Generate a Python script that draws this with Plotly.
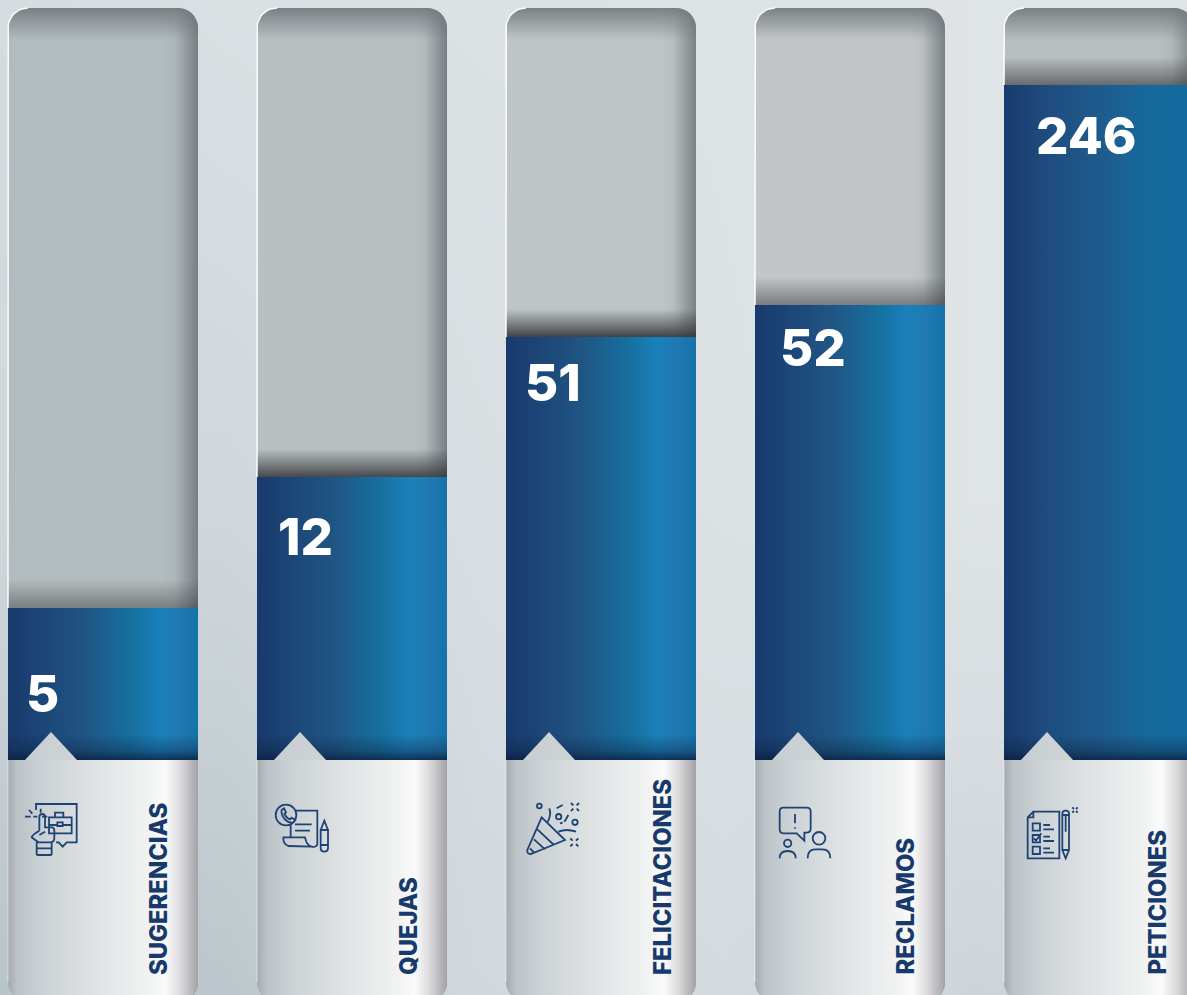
import math
import re
import plotly.graph_objects as go

# ---- data ----
categories = ["SUGERENCIAS", "QUEJAS", "FELICITACIONES", "RECLAMOS", "PETICIONES"]
values = [5, 12, 51, 52, 246]
# the infographic's fill heights are not proportional to the counts: height above the baseline
fill_levels = [152, 283, 423, 455, 675]
value_label_levels = [61, 217.5, 371.5, 407, 618.5]
value_label_offsets = [-77, -74, -76, -70, -63]
cat_label_offsets = [55, 56, 61, 55, 58]
cat_font_sizes = [23.85, 23.85, 23.85, 23.85, 23.85]
well_colors = ["#b2bbbd", "#b9c0c2", "#bfc5c6", "#c2c6c7", "#b9bebf"]
shadow_alphas = [0.45, 0.85, 0.9, 0.5, 0.6]

bg_x_px = [0, 228, 476, 725, 975, 1187]
bg_y_px = [0, 500, 995]
bg_levels = [
    [213, 218, 220, 221, 223, 224],
    [208, 208, 216, 220, 223, 224],
    [184, 188, 209, 212, 205, 209],
]

NAVY = "#17396b"
ICON = "#1d4274"
PITCH, CX0, BASE_PX, H_PX = 249.0, 103.0, 760.0, 995.0
HALF = 95.0 / PITCH
TOP = BASE_PX - 8
BOTTOM = BASE_PX - 1002


def dx(px):
    return px / PITCH


def X(px):
    return (px - CX0) / PITCH


def Y(py):
    return BASE_PX - py


def rrect(xl, xr, yt, yb, rt, rb):
    """Outline with rounded corners, x in axis units, y in axis units, radii in px."""
    xs, ys = [], []
    n = 10
    def arc(cx, cy, r, a0, a1):
        for k in range(n + 1):
            a = math.radians(a0 + (a1 - a0) * k / n)
            xs.append(cx + dx(r) * math.cos(a))
            ys.append(cy + r * math.sin(a))
    arc(xl + dx(rt), yt - rt, rt, 180, 90)
    arc(xr - dx(rt), yt - rt, rt, 90, 0)
    arc(xr - dx(rb), yb + rb, rb, 0, -90)
    arc(xl + dx(rb), yb + rb, rb, -90, -180)
    xs.append(xs[0]); ys.append(ys[0])
    return xs, ys


def grad(xs, ys, kind, scale, start=None, stop=None, name=""):
    fg = dict(type=kind, colorscale=scale)
    if start is not None:
        fg["start"], fg["stop"] = start, stop
    return go.Scatter(x=xs, y=ys, mode="none", fill="toself", fillcolor="rgba(0,0,0,0)",
                      fillgradient=fg, hoverinfo="skip", showlegend=False, name=name)


def transform(path, ox, oy, s=1 / 3):
    toks = re.findall(r"[MLQCZ]|-?\d+\.?\d*", path)
    out, is_x = [], True
    for t in toks:
        if t.isalpha():
            out.append(t); is_x = True
        elif is_x:
            out.append(f"{X(ox + float(t) * s):.5f}"); is_x = False
        else:
            out.append(f"{Y(oy + float(t) * s):.2f}"); is_x = True
    return " ".join(out)


def circle(cx, cy, r):
    k = 0.5523 * r
    return (f"M{cx-r} {cy} C{cx-r} {cy-k} {cx-k} {cy-r} {cx} {cy-r} C{cx+k} {cy-r} {cx+r} {cy-k} {cx+r} {cy} "
            f"C{cx+r} {cy+k} {cx+k} {cy+r} {cx} {cy+r} C{cx-k} {cy+r} {cx-r} {cy+k} {cx-r} {cy} Z ")


def cross(cx, cy, a=12, b=5):
    return (f"M{cx-a} {cy-a} L{cx-b} {cy-b} M{cx+a} {cy-a} L{cx+b} {cy-b} "
            f"M{cx-a} {cy+a} L{cx-b} {cy+b} M{cx+a} {cy+a} L{cx+b} {cy+b} ")


def box(x, y, w, h):
    return f"M{x} {y} L{x+w} {y} L{x+w} {y+h} L{x} {y+h} Z "


icons = [
    (0, 590,
     "M108 660 L108 642 L230 642 L230 757 L200 757 L188 770 L176 757 L168 757 "
     + box(147, 682, 68, 48) + "M165 682 L165 668 L190 668 L190 682 "
     "M147 705 L172 705 M188 705 L215 705 " + box(172, 697, 16, 11) +
     "M118 722 L118 680 Q118 672 127 672 Q135 672 135 680 L135 712 L155 712 Q163 712 163 722 L163 745 "
     "Q163 757 150 757 L115 757 L95 742 Q95 735 118 722 M118 735 L135 725 "
     "M110 757 L110 795 M155 757 L155 795 M110 775 L155 775 M110 795 L155 795 "
     "M75 680 L92 680 M100 680 L112 680 M126 680 L142 680 M87 660 L97 671 M122 656 L122 668"),
    (260, 780,
     circle(78, 105, 31) +
     "M65 90 L72 85 L78 97 L73 102 Q80 115 90 118 L95 113 L106 120 L100 128 Q85 130 72 115 Q62 100 65 90 Z "
     "M108 92 L172 92 L172 192 Q170 203 155 200 Q140 197 135 172 L70 172 Q68 190 85 198 L155 200 "
     "M92 135 L92 172 M105 133 L155 133 M105 152 L150 152 "
     "M182 150 L204 150 L204 205 Q204 215 193 215 Q182 215 182 205 Z M182 150 L193 122 L204 150 M182 195 L204 195"),
    (510, 780,
     circle(88, 78, 7) + circle(146, 110, 8) + circle(195, 127, 8) +
     "M95 112 L165 180 L62 222 Q50 222 52 210 Z M82 148 L132 195 M72 178 L105 208 M60 205 L72 218 "
     "M118 85 Q125 105 112 128 M140 85 L158 75 M175 105 Q170 115 163 125 M145 155 Q170 145 198 155 M150 130 L158 128 "
     + cross(195, 81) + cross(193, 187)),
    (765, 790,
     "M55 53 L125 53 Q137 53 137 65 L137 115 Q137 128 125 128 L118 128 L118 152 L95 130 L55 130 Q44 130 44 118 "
     "L44 65 Q44 53 55 53 Z M90 72 L90 100 M90 112 L90 116 "
     + circle(68, 160, 11) + "M44 205 Q44 183 68 183 Q92 183 92 205 "
     + circle(162, 145, 19) + "M128 205 Q128 178 150 178 L172 178 Q196 178 196 205"),
    (1010, 790,
     "M70 65 L148 65 L148 205 L53 205 L53 82 Z M70 65 L70 82 L53 82 "
     + box(68, 100, 22, 22) + box(68, 135, 22, 22) + box(68, 170, 22, 22) +
     "M72 145 L78 152 L94 130 M100 105 L120 105 M100 118 L132 118 M100 140 L120 140 M100 153 L132 153 "
     "M100 175 L120 175 M100 188 L132 188 "
     "M157 70 Q157 62 167 62 Q177 62 177 70 L177 180 L167 205 L157 180 Z M157 180 L177 180 M157 75 L177 75 "
     "M167 78 L167 125 " + cross(195, 60, 8, 3)),
]

BLUE_SCALE = [[0, "#193a6c"], [0.15, "#1b4476"], [0.4, "#205583"], [0.65, "#16709f"],
              [0.8, "#1b80bb"], [0.9, "#2079b0"], [1, "#1573a9"]]
BLUE_SCALE_LAST = [[0, "#193a6c"], [0.25, "#1f4e80"], [0.5, "#1f5a8c"], [0.75, "#17699c"], [1, "#136b9f"]]
PANEL_SCALE = [[0, "#a4aaad"], [0.05, "#bcc3c6"], [0.2, "#cdd3d6"], [0.45, "#dfe2e3"],
               [0.75, "#f1f3f3"], [0.83, "#fbfbfb"], [0.9, "#dedddf"], [1, "#a3a3a7"]]

fig = go.Figure()
fig.add_trace(go.Heatmap(x=[X(v) for v in bg_x_px], y=[Y(v) for v in bg_y_px], z=bg_levels, zsmooth="best",
                         zmin=184, zmax=226, showscale=False, hoverinfo="skip",
                         colorscale=[[0, "#b8c4ca"], [1, "#e2e6e8"]]))

annotations = []
for i, cat in enumerate(categories):
    xl, xr = i - HALF, i + HALF
    lvl = fill_levels[i]
    # grey well
    xs, ys = rrect(xl, xr, TOP, BOTTOM, 20, 20)
    c = well_colors[i]
    fig.add_trace(grad(xs, ys, "horizontal", [[0, c], [1, c]], name="well"))
    # top inner shadow
    xs, ys = rrect(xl, xr, TOP, TOP - 40, 20, 0)
    fig.add_trace(grad(xs, ys, "vertical",
                       [[0, "rgba(110,118,122,0)"], [1, "rgba(110,118,122,0.85)"]],
                       TOP - 32, TOP, name="top shadow"))
    # right inner shadow
    xs, ys = rrect(xl, xr, TOP, BOTTOM, 20, 20)
    fig.add_trace(grad(xs, ys, "horizontal",
                       [[0, "rgba(110,116,120,0)"], [0.35, "rgba(110,116,120,0.1)"], [1, "rgba(110,116,120,0.85)"]],
                       xr - dx(34), xr, name="right shadow"))
    # shadow cast over the fill
    xs = [xl, xr, xr, xl, xl]
    ys = [lvl, lvl, lvl + 28, lvl + 28, lvl]
    fig.add_trace(grad(xs, ys, "vertical",
                       [[0, f"rgba(50,52,56,{shadow_alphas[i]})"], [1, "rgba(50,52,56,0)"]],
                       lvl, lvl + 28, name="cast shadow"))
    # blue fill
    xs = [xl, xr, xr, xl, xl]
    ys = [0, 0, lvl, lvl, 0]
    fig.add_trace(go.Scatter(x=xs, y=ys, mode="none", fill="toself", fillcolor="#1a5f95",
                             fillgradient=dict(type="horizontal",
                                               colorscale=BLUE_SCALE_LAST if i == 4 else BLUE_SCALE),
                             hoverinfo="text", hoveron="fills", text=f"{cat}: {values[i]}",
                             showlegend=False, name=cat))
    ys = [0, 0, 26, 26, 0]
    fig.add_trace(grad(xs, ys, "vertical",
                       [[0, "rgba(10,30,60,0.8)"], [0.35, "rgba(10,30,60,0.35)"], [1, "rgba(10,30,60,0)"]],
                       0, 26, name="base shadow"))
    # label panel
    xs, ys = rrect(xl, xr, 0, BOTTOM, 0, 20)
    fig.add_trace(grad(xs, ys, "horizontal", PANEL_SCALE, name="panel"))
    # pointer
    xs = [xl + dx(17), xl + dx(43), xl + dx(69), xl + dx(17)]
    ys = [0, 28, 0, 0]
    fig.add_trace(grad(xs, ys, "horizontal", [[0, "#c7ced1"], [1, "#ced4d6"]], name="pointer"))
    # light edge
    ex, ey = rrect(xl, xr, TOP, BOTTOM, 20, 20)
    cut_x = [v for v, w in zip(ex, ey) if v < i - HALF + dx(21) and w > 0 and w >= lvl]
    cut_y = [w for v, w in zip(ex, ey) if v < i - HALF + dx(21) and w > 0 and w >= lvl]
    order = sorted(range(len(cut_y)), key=lambda k: cut_y[k])
    fig.add_trace(go.Scatter(x=[xl] + [cut_x[k] for k in order], y=[lvl] + [cut_y[k] for k in order],
                             mode="lines", line=dict(color="rgba(255,255,255,0.95)", width=1.5),
                             hoverinfo="skip", showlegend=False))
    fig.add_trace(go.Scatter(x=[xl, xl], y=[0, BOTTOM + 20], mode="lines",
                             line=dict(color="rgba(255,255,255,0.45)", width=1.2),
                             hoverinfo="skip", showlegend=False))
    # value label
    fig.add_trace(go.Scatter(x=[i + dx(value_label_offsets[i])], y=[value_label_levels[i]], mode="text",
                             text=[str(values[i])], textposition="middle right", hoverinfo="skip",
                             showlegend=False,
                             textfont=dict(family="Inter", size=51, color="white", weight=800)))
    # category label
    annotations.append(dict(x=i + dx(cat_label_offsets[i]), y=Y(975), xref="x", yref="y", text=cat, textangle=-90,
                            showarrow=False, xanchor="center", yanchor="bottom", borderpad=0, borderwidth=0,
                            font=dict(family="Inter", size=cat_font_sizes[i], color=NAVY, weight=800)))

shapes = [dict(type="path", path=transform(p, ox, oy), xref="x", yref="y", layer="above",
               line=dict(color=ICON, width=1.8), fillcolor="rgba(0,0,0,0)") for ox, oy, p in icons]

fig.update_layout(
    width=1187, height=995, margin=dict(l=0, r=0, t=0, b=0), showlegend=False,
    paper_bgcolor="#d8dde0", plot_bgcolor="#d8dde0",
    xaxis=dict(range=[X(0), X(1187)], visible=False, fixedrange=True),
    yaxis=dict(range=[Y(H_PX), Y(0)], visible=False, fixedrange=True),
    annotations=annotations, shapes=shapes,
)
fig.write_html("out.html", config={"displayModeBar": False},
               post_script="document.body.style.margin='0';document.documentElement.style.overflow='hidden';")
